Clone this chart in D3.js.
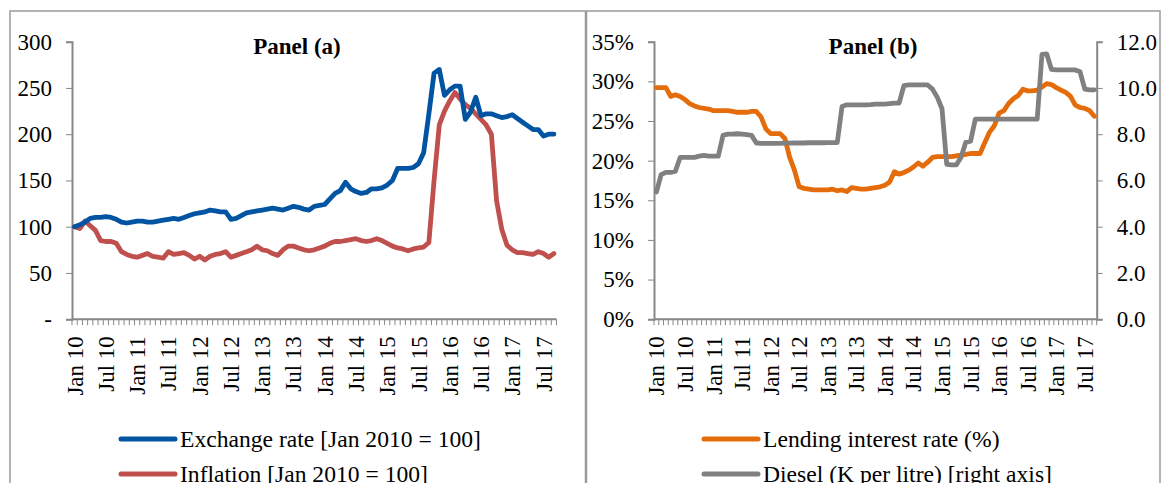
<!DOCTYPE html>
<html>
<head>
<meta charset="utf-8">
<title>Panel (a) / Panel (b)</title>
<script src="https://d3js.org/d3.v7.min.js"></script>
<style>
  body { margin: 0; background: #fff; }
  svg text { font-family: "Liberation Serif", "Times New Roman", serif; fill: #000; }
  .axis path, .axis line { stroke: #878787; }
</style>
</head>
<body>
<div id="chart"></div>
<script>
// categories: Jan 2010 .. Sep 2017 (monthly)
var monthNames = ["Jan","Feb","Mar","Apr","May","Jun","Jul","Aug","Sep","Oct","Nov","Dec"];
var years = [10, 11, 12, 13, 14, 15, 16, 17];
var months = [];
years.forEach(function(y) { monthNames.forEach(function(m) { months.push(m + " " + y); }); });
months = months.slice(0, 93);

var tickLabels = ["Jan 10","Jul 10","Jan 11","Jul 11","Jan 12","Jul 12","Jan 13","Jul 13",
  "Jan 14","Jul 14","Jan 15","Jul 15","Jan 16","Jul 16","Jan 17","Jul 17"];

// panel (a)
var exchangeRate = [100,102,105,109,110,110,111,110,108,105,104,105,106,106,105,105,106,107,108,109,
  108,110,112,114,115,116,118,117,116,116,108,109,112,115,116,117,118,119,120,119,
  118,120,122,121,119,118,122,123,124,130,136,139,148,141,138,136,137,141,141,142,
  145,150,163,163,163,164,168,180,222,266,270,242,248,252,252,216,224,240,220,222,
  222,220,218,219,221,217,213,209,205,205,198,200,200];
var inflation = [100,98,106,101,96,85,84,84,82,73,70,68,67,69,71,68,67,66,73,70,
  71,72,69,65,68,64,68,70,71,73,67,69,71,73,75,79,75,74,71,69,
  75,79,79,77,75,74,75,77,79,82,84,84,85,86,87,85,84,85,87,85,
  82,79,77,76,74,76,77,78,83,150,210,225,236,245,238,232,228,222,216,210,
  200,128,97,80,75,72,72,71,70,73,71,67,71];
var ticksA = [0, 50, 100, 150, 200, 250, 300];

// panel (b)
var lendingRate = [29.2,29.2,29.2,28.1,28.3,28.1,27.7,27.2,26.9,26.7,26.6,26.5,26.3,26.3,26.3,26.3,26.2,26.1,26.1,26.1,
  26.2,26.2,25.5,24.0,23.4,23.4,23.4,22.8,20.4,18.8,16.7,16.5,16.4,16.3,16.3,16.3,16.3,16.4,16.2,16.3,
  16.1,16.6,16.5,16.4,16.4,16.5,16.6,16.7,16.9,17.3,18.6,18.3,18.5,18.8,19.2,19.7,19.3,19.8,20.4,20.5,
  20.5,20.5,20.5,20.6,20.7,20.8,20.9,20.9,20.9,22.3,23.6,24.4,26.0,26.3,27.2,27.8,28.2,29.0,28.8,28.8,
  28.9,29.3,29.7,29.6,29.2,28.9,28.6,28.1,27.0,26.7,26.6,26.3,25.6];
var diesel = [5.5,6.25,6.35,6.35,6.4,7.0,7.0,7.0,7.0,7.05,7.08,7.05,7.05,7.05,7.95,8.0,8.0,8.02,8.0,7.98,
  7.95,7.62,7.6,7.6,7.6,7.6,7.6,7.61,7.61,7.62,7.62,7.62,7.63,7.63,7.63,7.63,7.64,7.64,7.64,9.2,
  9.27,9.27,9.27,9.27,9.27,9.28,9.3,9.3,9.3,9.32,9.34,9.35,10.1,10.13,10.13,10.13,10.13,10.13,9.95,9.6,
  9.1,6.7,6.67,6.67,7.0,7.65,7.7,8.65,8.65,8.65,8.65,8.65,8.65,8.65,8.65,8.65,8.65,8.65,8.65,8.65,
  8.65,11.45,11.47,10.8,10.78,10.78,10.78,10.78,10.78,10.7,9.95,9.92,9.92];
var ticksBLeft = [0, 5, 10, 15, 20, 25, 30, 35];
var ticksBRight = [0, 2, 4, 6, 8, 10, 12];

var W = 1162, H = 483;
var svg = d3.select("#chart").append("svg").attr("width", W).attr("height", H);

// outer frames
svg.append("rect").attr("x", 10).attr("y", 11).attr("width", 575.5).attr("height", 500)
  .attr("fill", "none").attr("stroke", "#9a9a9a").attr("stroke-width", 1.5);
svg.append("rect").attr("x", 586.5).attr("y", 11).attr("width", 573.5).attr("height", 500)
  .attr("fill", "none").attr("stroke", "#9a9a9a").attr("stroke-width", 1.5);

var plotTop = 41.7, plotBottom = 319.2;

function xAxis(x) {
  var g = svg.append("g").attr("class", "axis");
  var r = x.range();
  g.append("line").attr("x1", r[0]).attr("x2", r[1]).attr("y1", plotBottom).attr("y2", plotBottom)
    .attr("stroke-width", 2);
  // month ticks on band edges
  var edges = months.map(function(m) { return x(m); }).concat([r[1]]);
  g.selectAll(".mt").data(edges).enter().append("line")
    .attr("x1", function(d) { return d; }).attr("x2", function(d) { return d; })
    .attr("y1", plotBottom).attr("y2", plotBottom + 6).attr("stroke-width", 1);
  g.selectAll(".lbl").data(tickLabels).enter().append("text")
    .attr("transform", function(d) {
      return "translate(" + (x(d) + x.bandwidth() / 2) + "," + (plotBottom + 17) + ") rotate(-90)";
    })
    .attr("text-anchor", "end").attr("dy", "0.35em").style("font-size", "23px")
    .text(function(d) { return d; });
}

function line(x, y, data, color) {
  var gen = d3.line()
    .x(function(d, i) { return x(months[i]) + x.bandwidth() / 2; })
    .y(function(d) { return y(d); });
  svg.append("path").datum(data).attr("d", gen)
    .attr("fill", "none").attr("stroke", color).attr("stroke-width", 4.8)
    .attr("stroke-linejoin", "round").attr("stroke-linecap", "round");
}

function legendRow(x0, y0, color, label) {
  svg.append("line").attr("x1", x0).attr("x2", x0 + 54).attr("y1", y0).attr("y2", y0)
    .attr("stroke", color).attr("stroke-width", 5).attr("stroke-linecap", "round");
  svg.append("text").attr("x", x0 + 59).attr("y", y0 + 8).style("font-size", "23.6px").text(label);
}

function styleAxis(g) {
  g.select(".domain").attr("stroke-width", 2);
  g.selectAll("text").style("font-size", "23px").attr("fill", "#000");
}

// ===== Panel (a) =====
var xa = d3.scaleBand().domain(months).range([72, 556.5]).padding(0);
var ya = d3.scaleLinear().domain([0, 300]).range([plotBottom, plotTop]);

svg.append("g").attr("class", "axis").attr("transform", "translate(72,0)")
  .call(d3.axisLeft(ya).tickValues(ticksA).tickSizeOuter(0).tickSize(6).tickPadding(14)
    .tickFormat(function(d) { return d === 0 ? "-" : d; }))
  .call(styleAxis);
xAxis(xa);

line(xa, ya, inflation, "#c0504d");
line(xa, ya, exchangeRate, "#0054a2");

svg.append("text").attr("x", 297).attr("y", 54).attr("text-anchor", "middle")
  .style("font-size", "23px").style("font-weight", "bold").text("Panel (a)");

legendRow(121, 439, "#0054a2", "Exchange rate [Jan 2010 = 100]");
legendRow(121, 474, "#c0504d", "Inflation [Jan 2010 = 100]");

// ===== Panel (b) =====
var xb = d3.scaleBand().domain(months).range([654, 1096.7]).padding(0);
var ybl = d3.scaleLinear().domain([0, 35]).range([plotBottom, plotTop]);
var ybr = d3.scaleLinear().domain([0, 12]).range([plotBottom, plotTop]);

svg.append("g").attr("class", "axis").attr("transform", "translate(654,0)")
  .call(d3.axisLeft(ybl).tickValues(ticksBLeft).tickSizeOuter(0).tickSize(6).tickPadding(14)
    .tickFormat(function(d) { return d + "%"; }))
  .call(styleAxis);
svg.append("g").attr("class", "axis").attr("transform", "translate(1096.7,0)")
  .call(d3.axisRight(ybr).tickValues(ticksBRight).tickSizeOuter(0).tickSize(6).tickPadding(14)
    .tickFormat(d3.format(".1f")))
  .call(styleAxis);
xAxis(xb);

line(xb, ybl, lendingRate, "#e46c0a");
line(xb, ybr, diesel, "#808080");

svg.append("text").attr("x", 873).attr("y", 54).attr("text-anchor", "middle")
  .style("font-size", "23px").style("font-weight", "bold").text("Panel (b)");

legendRow(704, 439, "#e46c0a", "Lending interest rate (%)");
legendRow(704, 474, "#808080", "Diesel (K per litre) [right axis]");
</script>
</body>
</html>
